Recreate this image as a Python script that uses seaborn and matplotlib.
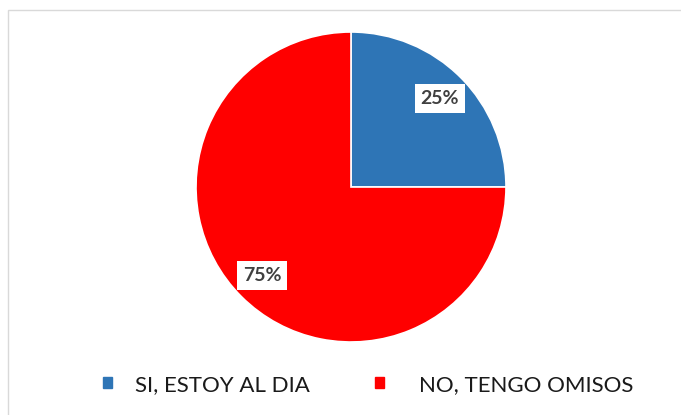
import matplotlib.pyplot as plt
import matplotlib.patches as mpatches
import seaborn as sns

# data
categories = ["SI, ESTOY AL DIA", "NO, TENGO OMISOS"]
values = [25, 75]
colors = ["#2E75B6", "#FF0000"]

sns.set_theme(style="white")
plt.rcParams['font.family'] = ['Lato', 'DejaVu Sans']

fig = plt.figure(figsize=(6.81, 4.15), dpi=100)

# light frame around the chart area
fig.patches.append(mpatches.Rectangle((8 / 681, -0.05), 1.0, 1 - 10 / 415 + 0.05,
                                      transform=fig.transFigure, fill=False,
                                      edgecolor="#d9d9d9", linewidth=1.0))

ax = fig.add_axes([(351 - 155) / 681, (415 - 187 - 155) / 415, 310 / 681, 310 / 415])
wedges, texts, autotexts = ax.pie(values, colors=colors, startangle=90, counterclock=False,
                                  autopct='%1.0f%%', pctdistance=0.81,
                                  wedgeprops=dict(edgecolor="white", linewidth=1.2))
for t in autotexts:
    t.set_fontsize(14)
    t.set_fontweight('bold')
    t.set_color('#404040')
    t.set_bbox(dict(facecolor='white', edgecolor='none', boxstyle='square,pad=0.3'))
ax.set_xlim(-1, 1)
ax.set_ylim(-1, 1)
ax.set_aspect('equal')

# one legend entry per category, placed as in the original
for c, l, x0, pad in zip(colors, categories, [103, 375], [1.04, 1.58]):
    leg = fig.legend(handles=[mpatches.Patch(color=c, label=l)], loc='center left',
                     bbox_to_anchor=(x0 / 681, 0.073), frameon=False, fontsize=16,
                     handlelength=0.41, handleheight=0.41, handletextpad=pad,
                     borderpad=0, borderaxespad=0)
    for t in leg.get_texts():
        t.set_color('#1a1a1a')

plt.savefig("out.png", dpi=100)
